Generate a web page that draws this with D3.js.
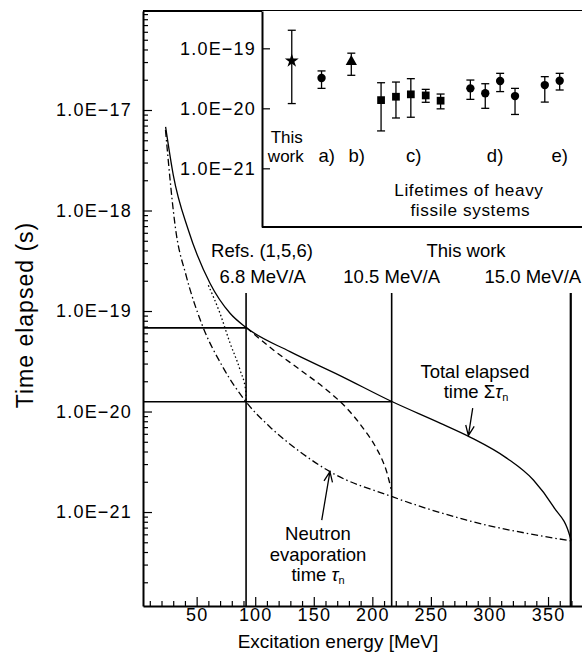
<!DOCTYPE html>
<html>
<head>
<meta charset="utf-8">
<script src="https://cdn.jsdelivr.net/npm/d3@7"></script>
<style>
  body { margin: 0; background: #fff; }
  svg text { font-family: "Liberation Sans", Arial, sans-serif; fill: #000; }
</style>
</head>
<body>
<div id="chart"></div>
<script>
// ---- data (excitation energy in MeV, time in s) ----
const totalE = [23.5, 30.1, 42.9, 61.4, 78.5, 92.6, 129.7, 172.4, 217.1, 257.8, 283.4, 314.7, 337.5, 354.6, 368.8, 369.6];
const totalT = [6.8e-18, 2.24e-18, 6.4e-19, 1.89e-19, 9.5e-20, 6.8e-20, 3.94e-20, 2.28e-20, 1.25e-20, 7.67e-21, 5.57e-21, 3.44e-21, 2.08e-21, 1.13e-21, 5.67e-22, 5.2e-22];

const evapE = [23.4, 32.4, 40.9, 54.3, 72.5, 92.1, 112.6, 138.2, 163.8, 217.0, 280.6, 368.9];
const evapT = [6.32e-18, 6.1e-19, 2.28e-19, 7.48e-20, 2.75e-20, 1.25e-20, 7.02e-21, 3.98e-21, 2.52e-21, 1.42e-21, 8.3e-22, 5.18e-22];

// partial sums starting at 6.8 MeV/A (dashed) and below it (dotted)
const dashE = [92.6, 115.5, 138.3, 161.1, 178.1, 189.5, 203.8, 208.1, 212.3, 216.0];
const dashT = [6.8e-20, 4.1e-20, 2.6e-20, 1.64e-20, 1.08e-20, 7.5e-21, 4.24e-21, 3.37e-21, 2.5e-21, 1.7e-21];

const dotE = [60.0, 69.9, 78.5, 87.0, 92.1, 92.2];
const dotT = [1.8e-19, 9.5e-20, 4.8e-20, 2.6e-20, 1.56e-20, 1.25e-20];

// beam energies: vertical marker lines
const beamLabels = ["6.8 MeV/A", "10.5 MeV/A", "15.0 MeV/A"];
const beamE = [92.2, 216.5, 369.4];
// horizontal guide lines (energy where they stop, time level)
const guideE = [92.2, 216.5];
const guideT = [6.8e-20, 1.25e-20];

const xTicks = [50, 100, 150, 200, 250, 300, 350];
const yTicks = [1e-21, 1e-20, 1e-19, 1e-18, 1e-17];

// inset: lifetimes of heavy fissile systems
const insetPos   = [0, 2, 4, 6, 7, 8, 9, 10, 12, 13, 14, 15, 17, 18];
const insetShape = ["star", "circle", "triangle", "square", "square", "square", "square", "square",
                    "circle", "circle", "circle", "circle", "circle", "circle"];
const insetVal = [6.2e-20, 3.2e-20, 6.0e-20, 1.37e-20, 1.56e-20, 1.71e-20, 1.64e-20, 1.34e-20, 2.15e-20, 1.78e-20, 2.85e-20, 1.6e-20, 2.44e-20, 2.88e-20];
const insetHi  = [2.0e-19, 4.2e-20, 8.3e-20, 2.67e-20, 2.74e-20, 3.12e-20, 2.07e-20, 1.73e-20, 2.96e-20, 2.57e-20, 3.83e-20, 2.15e-20, 3.37e-20, 3.83e-20];
const insetLo  = [1.2e-20, 2.15e-20, 3.55e-20, 4.2e-21, 6.9e-21, 7.1e-21, 1.26e-20, 9.8e-21, 1.41e-20, 1.0e-20, 1.9e-20, 7.9e-21, 1.27e-20, 2.02e-20];
const groupLabels = ["a)", "b)", "c)", "d)", "e)"];
const groupPos = [2.35, 4.36, 8.2, 13.66, 18.0];
const insetTicks = [1e-21, 1e-20, 1e-19];

// ---- layout ----
const W = 582, H = 664;
const P = { left: 143, right: 582, top: 11, bottom: 606 };
const I = { left: 262, right: 582, top: 11, bottom: 227 };
const FS = 18.5;

const svg = d3.select("#chart").append("svg")
    .attr("width", W)
    .attr("height", H);

const x = d3.scaleLinear().domain([4.2, 379]).range([P.left, P.right]);
const y = d3.scaleLog().domain([Math.pow(10, -21.935), Math.pow(10, -16.015)]).range([P.bottom, P.top]);

const ix = d3.scaleLinear().domain([-2, 19.5]).range([I.left, I.right]);
const iy = d3.scaleLog().domain([Math.pow(10, -21.978), Math.pow(10, -18.378)]).range([I.bottom, I.top]);

const fmtE = d => "1.0E\u2212" + (-Math.round(Math.log10(d)));

function styleAxis(g) {
    g.attr("font-size", 18).attr("font-family", null);
    g.select(".domain").attr("stroke-width", 2);
    g.selectAll(".tick line").attr("stroke-width", 1.2);
    g.selectAll(".tick text").attr("letter-spacing", "1.2px");
}

// minor log ticks on the left axis
const yMinor = [];
for (let e = -22; e <= -17; e++) {
    for (let m = 2; m <= 9; m++) {
        const v = m * Math.pow(10, e);
        if (v > y.domain()[0] && v < y.domain()[1]) yMinor.push(v);
    }
}
svg.append("g")
    .attr("transform", `translate(${P.left},0)`)
    .call(d3.axisLeft(y).tickValues(yMinor).tickFormat("").tickSizeInner(-5).tickSizeOuter(0))
    .call(g => g.select(".domain").remove())
    .call(g => g.selectAll(".tick line").attr("stroke-width", 1.2));

svg.append("g")
    .attr("transform", `translate(${P.left},0)`)
    .call(d3.axisLeft(y).tickValues(yTicks).tickFormat(fmtE).tickSizeInner(-9).tickSizeOuter(0).tickPadding(11))
    .call(styleAxis);

// x axis, ticks every 10 MeV, pointing inwards
const xMinor = d3.range(10, 380, 10).filter(v => v % 50 !== 0);
svg.append("g")
    .attr("transform", `translate(0,${P.bottom})`)
    .call(d3.axisBottom(x).tickValues(xMinor).tickFormat("").tickSizeInner(-5).tickSizeOuter(0))
    .call(g => g.select(".domain").remove())
    .call(g => g.selectAll(".tick line").attr("stroke-width", 1.2));

svg.append("g")
    .attr("transform", `translate(0,${P.bottom})`)
    .call(d3.axisBottom(x).tickValues(xTicks).tickSizeInner(-9).tickSizeOuter(0).tickPadding(2))
    .call(styleAxis);

// top frame line
svg.append("line")
    .attr("x1", P.left).attr("x2", P.right)
    .attr("y1", P.top).attr("y2", P.top)
    .attr("stroke", "#000").attr("stroke-width", 2);

// axis titles
svg.append("text")
    .attr("x", 338)
    .attr("y", 648)
    .attr("text-anchor", "middle")
    .attr("font-size", 19)
    .text("Excitation energy [MeV]");

svg.append("text")
    .attr("transform", "translate(33,315) rotate(-90)")
    .attr("text-anchor", "middle")
    .attr("font-size", 23)
    .attr("letter-spacing", "1px")
    .text("Time elapsed (s)");

// ---- guide lines ----
const tTop = 1.51e-19;
svg.append("g").selectAll("line")
    .data(beamE)
    .join("line")
    .attr("x1", d => x(d)).attr("x2", d => x(d))
    .attr("y1", y(tTop)).attr("y2", P.bottom)
    .attr("stroke", "#000")
    .attr("stroke-width", (d, i) => i === 2 ? 2.2 : 1.6);

svg.append("g").selectAll("line")
    .data(guideE)
    .join("line")
    .attr("x1", P.left).attr("x2", d => x(d))
    .attr("y1", (d, i) => y(guideT[i])).attr("y2", (d, i) => y(guideT[i]))
    .attr("stroke", "#000")
    .attr("stroke-width", 1.6);

// ---- curves ----
const line = d3.line()
    .x(d => x(d[0]))
    .y(d => y(d[1]))
    .curve(d3.curveMonotoneX);

const curves = [
    { e: totalE, t: totalT, dash: null },
    { e: evapE, t: evapT, dash: "7,3,1.5,3" },
    { e: dashE, t: dashT, dash: "6,4" },
    { e: dotE, t: dotT, dash: "1.5,2.5" }
];

svg.append("g").selectAll("path")
    .data(curves)
    .join("path")
    .attr("d", c => line(c.e.map((v, i) => [v, c.t[i]])))
    .attr("fill", "none")
    .attr("stroke", "#000")
    .attr("stroke-width", 1.3)
    .attr("stroke-dasharray", c => c.dash);

// ---- annotations ----
const ann = svg.append("g").attr("font-size", FS).attr("text-anchor", "middle");

ann.append("text").attr("x", x(105.8)).attr("y", y(3.47e-19)).text("Refs. (1,5,6)");
ann.append("text").attr("x", x(280)).attr("y", y(3.47e-19)).text("This work");
ann.selectAll(".beam")
    .data(beamLabels)
    .join("text")
    .attr("class", "beam")
    .attr("x", (d, i) => i === 0 ? x(106.4) : i === 1 ? x(beamE[1]) : x(378.3))
    .attr("y", y(1.91e-19))
    .attr("text-anchor", (d, i) => i === 2 ? "end" : "middle")
    .text(d => d);

ann.append("text").attr("x", x(287.6)).attr("y", y(2.15e-20)).text("Total elapsed");
const t2 = ann.append("text").attr("x", x(288.5)).attr("y", y(1.36e-20));
t2.append("tspan").text("time \u03A3");
t2.append("tspan").attr("font-style", "italic").text("\u03C4");
t2.append("tspan").attr("font-size", 11).attr("dy", 3).text("n");

ann.append("text").attr("x", x(153.6)).attr("y", y(5.26e-22)).text("Neutron");
ann.append("text").attr("x", x(153.6)).attr("y", y(3.25e-22)).text("evaporation");
const t3 = ann.append("text").attr("x", x(153.6)).attr("y", y(2.06e-22));
t3.append("tspan").text("time ");
t3.append("tspan").attr("font-style", "italic").text("\u03C4");
t3.append("tspan").attr("font-size", 11).attr("dy", 3).text("n");

// arrows: tail -> tip (tip sits on the curve)
const arrows = [
    { from: [285.7, 1.08e-20], to: [282.0, 5.75e-21] },
    { from: [156.8, 8.3e-22], to: [163.8, 2.52e-21] }
];
arrows.forEach(a => {
    const x1 = x(a.from[0]), y1 = y(a.from[1]);
    const x2 = x(a.to[0]), y2 = y(a.to[1]);
    const ang = Math.atan2(y2 - y1, x2 - x1);
    const L = 11, s = 0.4;
    const p = `M${x1},${y1}L${x2},${y2}` +
        `M${x2 - L * Math.cos(ang - s)},${y2 - L * Math.sin(ang - s)}L${x2},${y2}` +
        `L${x2 - L * Math.cos(ang + s)},${y2 - L * Math.sin(ang + s)}`;
    svg.append("path").attr("d", p).attr("fill", "none").attr("stroke", "#000").attr("stroke-width", 1.3);
});

// ---- inset ----
const inset = svg.append("g");
inset.append("rect")
    .attr("x", I.left).attr("y", I.top)
    .attr("width", I.right - I.left).attr("height", I.bottom - I.top)
    .attr("fill", "#fff");

inset.append("g")
    .attr("transform", `translate(${I.left},0)`)
    .call(d3.axisLeft(iy).tickValues(insetTicks).tickFormat(fmtE).tickSizeInner(-8).tickSizeOuter(0).tickPadding(6))
    .call(styleAxis);

inset.append("line")
    .attr("x1", I.left).attr("x2", I.right)
    .attr("y1", I.bottom).attr("y2", I.bottom)
    .attr("stroke", "#000").attr("stroke-width", 2);

const pts = insetPos.map((p, i) => ({ p, v: insetVal[i], lo: insetLo[i], hi: insetHi[i], shape: insetShape[i] }));
const cap = 4;
const eb = inset.append("g").attr("stroke", "#000").attr("stroke-width", 1.3);
eb.selectAll(".bar").data(pts).join("line")
    .attr("x1", d => ix(d.p)).attr("x2", d => ix(d.p))
    .attr("y1", d => iy(d.lo)).attr("y2", d => iy(d.hi));
eb.selectAll(".capH").data(pts).join("line").attr("class", "capH")
    .attr("x1", d => ix(d.p) - cap).attr("x2", d => ix(d.p) + cap)
    .attr("y1", d => iy(d.hi)).attr("y2", d => iy(d.hi));
eb.selectAll(".capL").data(pts).join("line").attr("class", "capL")
    .attr("x1", d => ix(d.p) - cap).attr("x2", d => ix(d.p) + cap)
    .attr("y1", d => iy(d.lo)).attr("y2", d => iy(d.lo));

const symType = { star: d3.symbolStar, circle: d3.symbolCircle, triangle: d3.symbolTriangle, square: d3.symbolSquare };
const symSize = { star: 60, circle: 55, triangle: 55, square: 60 };
inset.append("g").selectAll("path")
    .data(pts)
    .join("path")
    .attr("transform", d => `translate(${ix(d.p)},${iy(d.v)})`)
    .attr("d", d => d3.symbol(symType[d.shape], symSize[d.shape])())
    .attr("fill", "#000");

const il = inset.append("g").attr("font-size", FS).attr("text-anchor", "middle");
il.append("text").attr("x", ix(-0.34)).attr("y", iy(2.6e-21)).attr("font-size", 17).text("This");
il.append("text").attr("x", ix(-0.4)).attr("y", iy(1.27e-21)).attr("font-size", 17).text("work");
il.selectAll(".grp")
    .data(groupLabels)
    .join("text")
    .attr("class", "grp")
    .attr("x", (d, i) => ix(groupPos[i]))
    .attr("y", iy(1.27e-21))
    .text(d => d);
il.append("text").attr("x", ix(11.9)).attr("y", iy(3.5e-22))
    .attr("font-size", 17.2).attr("letter-spacing", "0.6px").text("Lifetimes of heavy");
il.append("text").attr("x", ix(12.0)).attr("y", iy(1.62e-22))
    .attr("font-size", 17.2).attr("letter-spacing", "0.6px").text("fissile systems");
</script>
</body>
</html>
